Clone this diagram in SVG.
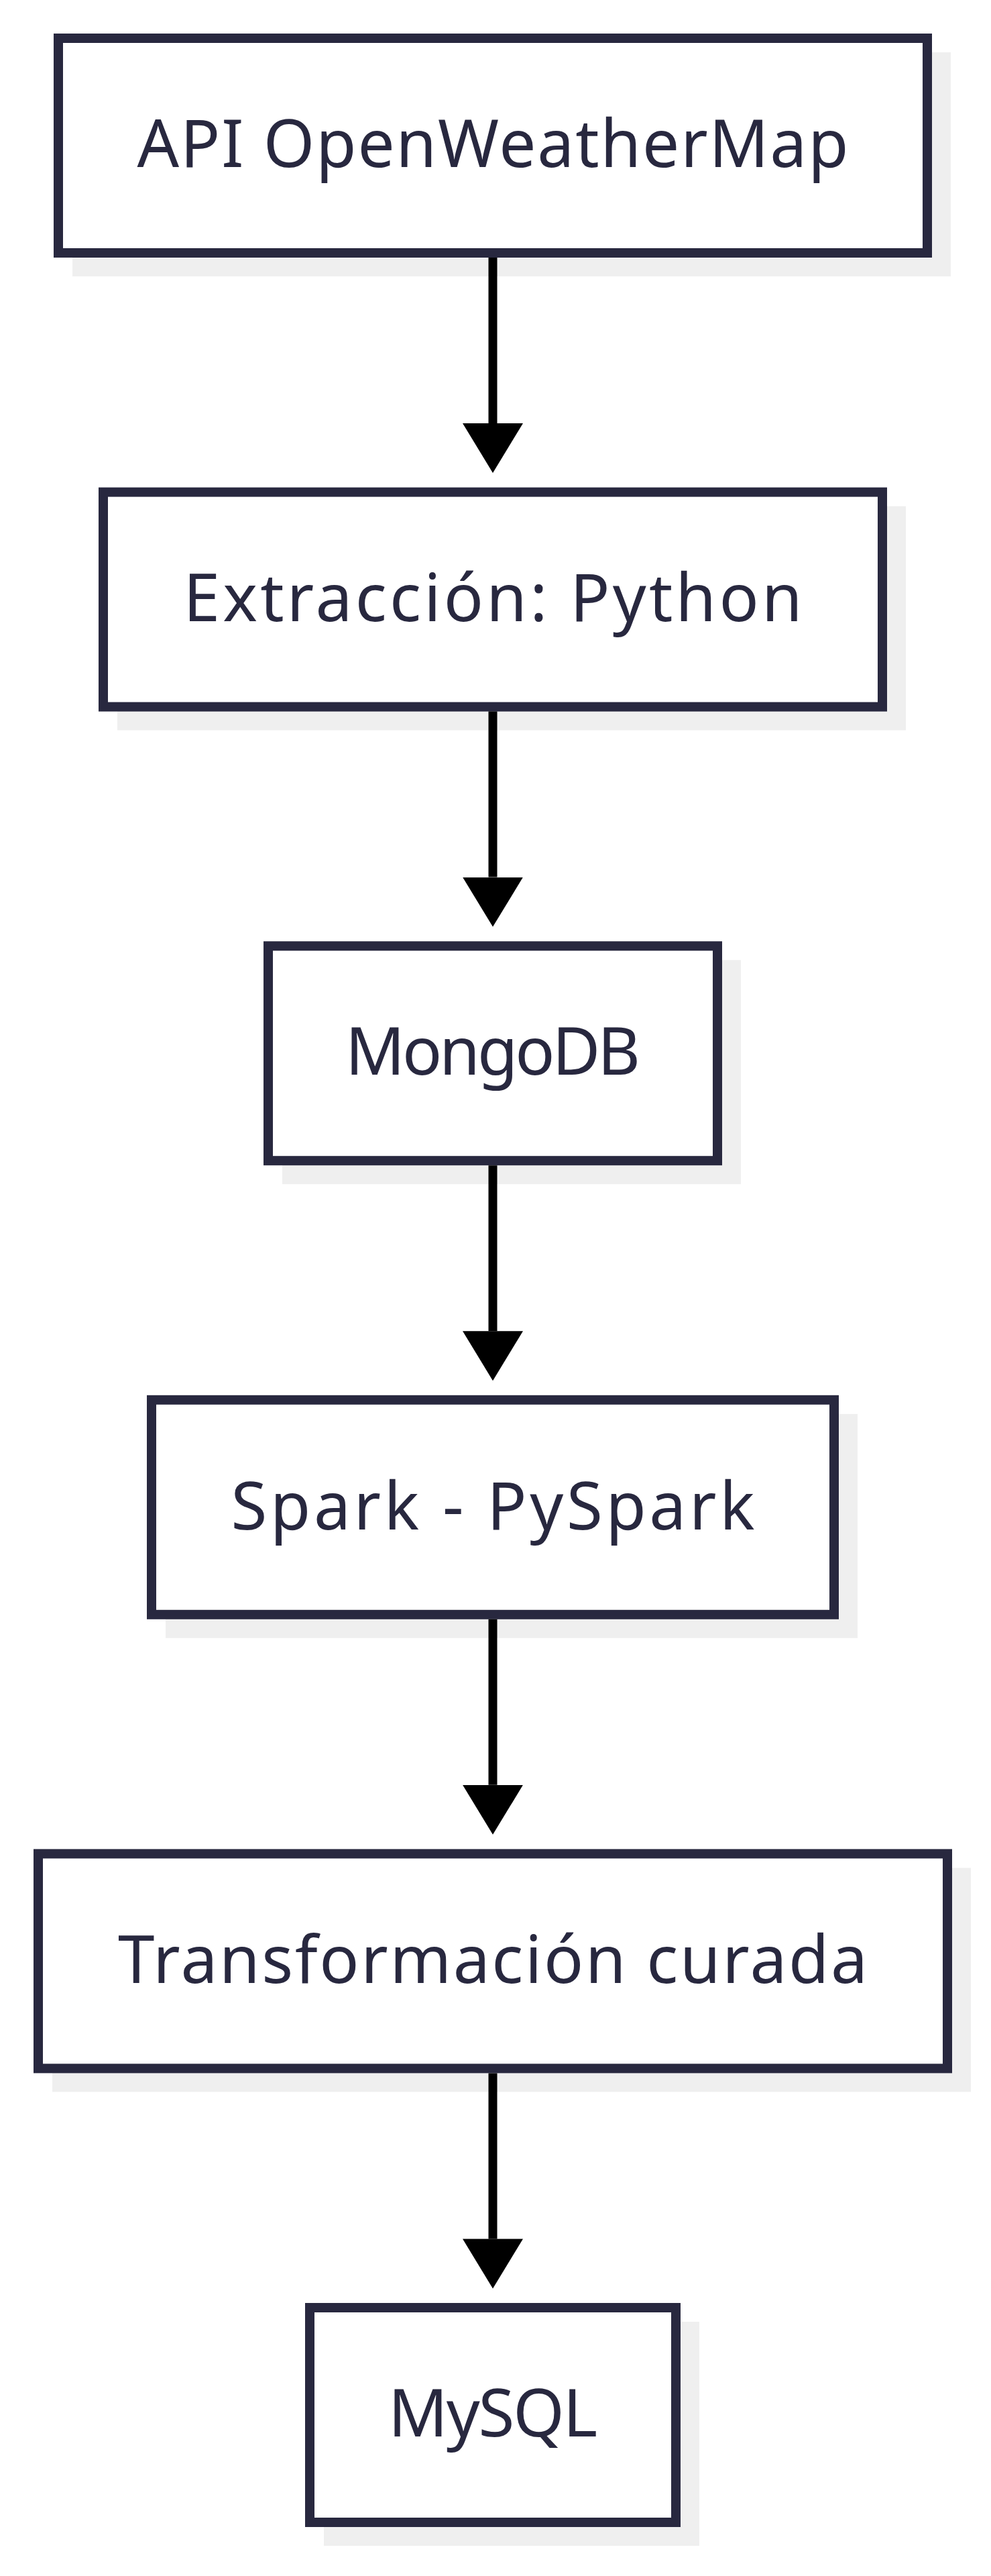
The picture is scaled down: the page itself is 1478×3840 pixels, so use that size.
<svg xmlns="http://www.w3.org/2000/svg" width="1478" height="3840" viewBox="0 0 1478 3840">
  <style>
    .shadow { fill: #efefef; stroke: none; }
    .box { fill: #ffffff; stroke: #28283f; stroke-width: 14; }
    .label { font-family: "Noto Sans", "Liberation Sans", sans-serif; font-size: 98px; fill: #28283f; text-anchor: middle; }
    .edge { stroke: #000000; stroke-width: 13; fill: none; }
  </style>
  <defs>
    <marker id="arrow" markerUnits="userSpaceOnUse" markerWidth="76" markerHeight="92" viewBox="0 -46 76 92" refX="0" refY="0" orient="auto">
      <path d="M0,-45 L74,0 L0,45 Z" fill="#000000"/>
    </marker>
  </defs>
  <rect width="1478" height="3840" fill="#ffffff"/>

  <g id="node-api">
    <rect class="shadow" x="108" y="78" width="1310" height="334"/>
    <rect class="box" x="87" y="57" width="1296" height="320"/>
    <text class="label" x="735" y="249" textLength="1061" lengthAdjust="spacing">API OpenWeatherMap</text>
  </g>

  <g id="node-extraccion">
    <rect class="shadow" x="175" y="754.6" width="1176" height="334"/>
    <rect class="box" x="154" y="733.6" width="1162" height="320"/>
    <text class="label" x="735" y="926" textLength="923" lengthAdjust="spacing">Extracción: Python</text>
  </g>

  <g id="node-mongodb">
    <rect class="shadow" x="421" y="1431.2" width="684" height="334"/>
    <rect class="box" x="400" y="1410.2" width="670" height="320"/>
    <text class="label" x="735" y="1602" textLength="440" lengthAdjust="spacing">MongoDB</text>
  </g>

  <g id="node-spark">
    <rect class="shadow" x="247" y="2107.8" width="1032" height="334"/>
    <rect class="box" x="226" y="2086.8" width="1018" height="320"/>
    <text class="label" x="735" y="2280" textLength="781" lengthAdjust="spacing">Spark - PySpark</text>
  </g>

  <g id="node-transformacion">
    <rect class="shadow" x="78" y="2784.4" width="1370" height="334"/>
    <rect class="box" x="57" y="2763.4" width="1356" height="320"/>
    <text class="label" x="735" y="2956" textLength="1118" lengthAdjust="spacing">Transformación curada</text>
  </g>

  <g id="node-mysql">
    <rect class="shadow" x="483" y="3461" width="560" height="334"/>
    <rect class="box" x="462" y="3440" width="546" height="320"/>
    <text class="label" x="735" y="3632" textLength="312" lengthAdjust="spacing">MySQL</text>
  </g>

  <g id="connectors">
    <line class="edge" x1="735" y1="384" x2="735" y2="631" marker-end="url(#arrow)"/>
    <line class="edge" x1="735" y1="1060.6" x2="735" y2="1307.6" marker-end="url(#arrow)"/>
    <line class="edge" x1="735" y1="1737.2" x2="735" y2="1984.2" marker-end="url(#arrow)"/>
    <line class="edge" x1="735" y1="2413.8" x2="735" y2="2660.8" marker-end="url(#arrow)"/>
    <line class="edge" x1="735" y1="3090.4" x2="735" y2="3337.4" marker-end="url(#arrow)"/>
  </g>
</svg>
